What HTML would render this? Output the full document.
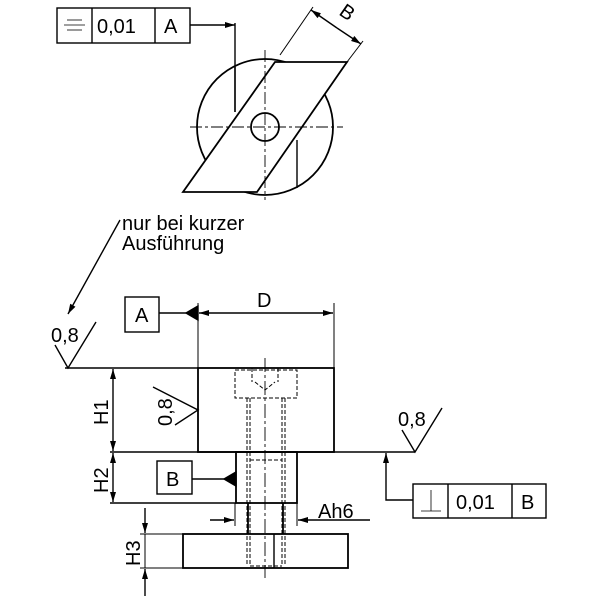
<!DOCTYPE html>
<html><head><meta charset="utf-8"><style>html,body{margin:0;padding:0;background:#fff}svg{display:block}text{font-family:"Liberation Sans",sans-serif;fill:#000}</style></head><body>
<svg width="600" height="600" viewBox="0 0 600 600" xmlns="http://www.w3.org/2000/svg">
<defs>
<marker id="ar" viewBox="0 0 10 6" refX="10" refY="3" markerWidth="11" markerHeight="6" orient="auto" markerUnits="userSpaceOnUse"><path d="M0,0 L10,3 L0,6z" fill="#000"/></marker>
</defs>
<g fill="none" stroke="#000" stroke-width="1.4">
<rect x="57" y="8" width="133" height="35"/>
<line x1="92" y1="8" x2="92" y2="43"/><line x1="155" y1="8" x2="155" y2="43"/>
<line x1="67" y1="20" x2="82" y2="20" stroke-width="0.8"/><line x1="64" y1="25" x2="85" y2="25" stroke-width="0.8"/><line x1="67" y1="30" x2="82" y2="30" stroke-width="0.8"/>
<line x1="190" y1="25" x2="235" y2="25" marker-end="url(#ar)"/>
<line x1="235" y1="23" x2="235" y2="112"/>
<circle cx="265" cy="127" r="68" stroke-width="1.8"/>
<polygon points="275,62 347,62 257,192 183,192" fill="#fff" stroke-width="1.8"/>
<line x1="235" y1="67" x2="235" y2="112"/>
<line x1="297" y1="140" x2="297" y2="188"/>
<circle cx="265" cy="127" r="14" fill="#fff" stroke-width="1.8"/>
<line x1="190" y1="127" x2="343" y2="127" stroke-width="0.9" stroke-dasharray="12,3,3,3"/>
<line x1="265" y1="50" x2="265" y2="200" stroke-width="0.9" stroke-dasharray="12,3,3,3"/>
<line x1="280" y1="55" x2="313" y2="7" stroke-width="1"/>
<line x1="347" y1="62" x2="363" y2="41" stroke-width="1"/>
<line x1="337" y1="28" x2="311" y2="10" marker-end="url(#ar)"/>
<line x1="337" y1="28" x2="361" y2="44" marker-end="url(#ar)"/>
<line x1="120" y1="220" x2="68" y2="314" marker-end="url(#ar)"/>
<polyline points="55,345 68,368 96,322"/>
<line x1="65" y1="368" x2="198" y2="368"/>
<rect x="125" y="297" width="34" height="35"/>
<line x1="159" y1="313" x2="186" y2="313"/>
<polygon points="198,306 198,320 186,313" fill="#000"/>
<line x1="198" y1="303" x2="198" y2="368" stroke-width="1"/>
<line x1="334" y1="303" x2="334" y2="368" stroke-width="1"/>
<line x1="265" y1="313" x2="199" y2="313" marker-end="url(#ar)"/>
<line x1="265" y1="313" x2="333" y2="313" marker-end="url(#ar)"/>
<rect x="198" y="368" width="136" height="84" stroke-width="1.8"/>
<rect x="236" y="452" width="61" height="51" stroke-width="1.8"/>
<rect x="183" y="534" width="165" height="34" stroke-width="1.8"/>
<line x1="248" y1="503" x2="248" y2="534" stroke-width="1.8"/>
<line x1="283" y1="503" x2="283" y2="534" stroke-width="1.8"/>
<line x1="110" y1="452" x2="415" y2="452"/>
<line x1="110" y1="503" x2="236" y2="503"/>
<g stroke-dasharray="4,2" stroke-width="1">
<rect x="235" y="370" width="62" height="28"/>
<line x1="247" y1="398" x2="247" y2="566"/><line x1="285" y1="398" x2="285" y2="566"/>
<line x1="250" y1="398" x2="250" y2="566"/><line x1="282" y1="398" x2="282" y2="566"/>
<line x1="250" y1="566" x2="282" y2="566"/>
<line x1="250" y1="460" x2="282" y2="460"/>
<line x1="252" y1="368" x2="252" y2="382"/><line x1="278" y1="368" x2="278" y2="382"/>
<polyline points="255,382 265,390 275,382"/>
</g>
<line x1="274" y1="534" x2="274" y2="568"/>
<line x1="265" y1="358" x2="265" y2="578" stroke-width="0.9" stroke-dasharray="14,3,3,3"/>
<line x1="113" y1="410" x2="113" y2="369" marker-end="url(#ar)"/>
<line x1="113" y1="410" x2="113" y2="451" marker-end="url(#ar)"/>
<line x1="113" y1="478" x2="113" y2="453" marker-end="url(#ar)"/>
<line x1="113" y1="478" x2="113" y2="502" marker-end="url(#ar)"/>
<line x1="140" y1="534" x2="183" y2="534" stroke-width="1"/>
<line x1="140" y1="568" x2="183" y2="568" stroke-width="1"/>
<line x1="145" y1="508" x2="145" y2="533" marker-end="url(#ar)"/>
<line x1="145" y1="596" x2="145" y2="569" marker-end="url(#ar)"/>
<line x1="145" y1="534" x2="145" y2="568" stroke-width="1"/>
<rect x="157" y="461" width="35" height="33"/>
<line x1="192" y1="479" x2="224" y2="479"/>
<polygon points="236,472 236,486 224,479" fill="#000"/>
<line x1="235" y1="503" x2="235" y2="526" stroke-width="1"/>
<line x1="297" y1="503" x2="297" y2="526" stroke-width="1"/>
<line x1="210" y1="520" x2="234" y2="520" marker-end="url(#ar)"/>
<line x1="370" y1="520" x2="298" y2="520" marker-end="url(#ar)"/>
<polyline points="153,387 198,410 175,425"/>
<polyline points="402,430 415,452 442,408"/>
<rect x="413" y="484" width="133" height="34"/>
<line x1="448" y1="484" x2="448" y2="518"/><line x1="512" y1="484" x2="512" y2="518"/>
<line x1="431" y1="490" x2="431" y2="511" stroke-width="0.8"/><line x1="421" y1="511" x2="441" y2="511" stroke-width="0.8"/>
<polyline points="413,500 386,500 386,453" marker-end="url(#ar)"/>
</g>
<g font-size="20">
<text x="97" y="33">0,01</text>
<text x="164" y="33">A</text>
<text x="0" y="0" transform="translate(338,14) rotate(35)">B</text>
<text x="122" y="230">nur bei kurzer</text>
<text x="122" y="250">Ausführung</text>
<text x="51" y="342">0,8</text>
<text x="135" y="322">A</text>
<text x="257" y="307">D</text>
<text x="0" y="0" transform="translate(108,425) rotate(-90)">H1</text>
<text x="0" y="0" transform="translate(108,493) rotate(-90)">H2</text>
<text x="0" y="0" transform="translate(140,566) rotate(-90)">H3</text>
<text x="166" y="486">B</text>
<text x="318" y="518">Ah6</text>
<text x="0" y="0" transform="translate(172,426) rotate(-90)">0,8</text>
<text x="398" y="426">0,8</text>
<text x="456" y="509">0,01</text>
<text x="521" y="509">B</text>
</g>
</svg>
</body></html>
